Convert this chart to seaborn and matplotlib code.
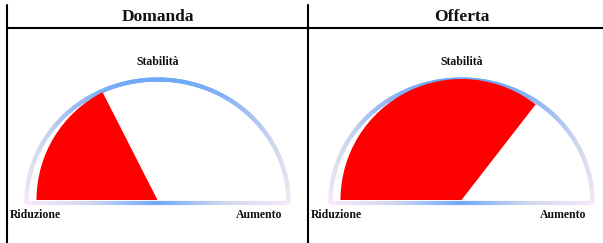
import numpy as np
import matplotlib
matplotlib.use("Agg")
import matplotlib.pyplot as plt
import seaborn as sns
from matplotlib.collections import LineCollection
from matplotlib.patches import Wedge
from matplotlib.lines import Line2D

# Gauge data: position on the scale, -1 = Riduzione, 0 = Stabilità, +1 = Aumento
panels = ["Domanda", "Offerta"]
values = [-0.30, 0.42]
label_left = "Riduzione"
label_top = "Stabilità"
label_right = "Aumento"

sns.set_theme(style="white")
plt.rcParams["font.family"] = ["Liberation Serif", "DejaVu Serif"]

W, H = 603, 243
fig = plt.figure(figsize=(W / 100, H / 100), dpi=100)

# gradient from pale pink (ends) to blue (top / middle)
grad = sns.blend_palette(["#f7e8f7", "#cfd6ee", "#6ea8f8"], n_colors=101)

R = 121          # radius of the red wedge (px)
A, B = 131, 123  # semi-axes of the outline (px)
Y0 = -2.5        # outline baseline

panel_left = [7, 308]
panel_width = [301, 307]
top_px = 28

for name, val, px, pw in zip(panels, values, panel_left, panel_width):
    ax = fig.add_axes([px / W, 0, pw / W, (H - top_px) / H])
    ax.set_xlim(-pw / 2, pw / 2)
    ax.set_ylim(-43, 172)
    ax.axis("off")

    # outline arc with gradient
    t = np.linspace(0, np.pi, 300)
    xs, ys = A * np.cos(t), Y0 + B * np.sin(t)
    pts = np.column_stack([xs, ys]).reshape(-1, 1, 2)
    segs = np.concatenate([pts[:-1], pts[1:]], axis=1)
    level = np.sin((t[:-1] + t[1:]) / 2)
    cols = [grad[int(round(v * 100))] for v in level]
    ax.add_collection(LineCollection(segs, colors=cols, linewidths=3.0,
                                     capstyle="round", zorder=2))

    # baseline with gradient
    bx = np.linspace(-A, A, 300)
    bpts = np.column_stack([bx, np.full_like(bx, Y0)]).reshape(-1, 1, 2)
    bsegs = np.concatenate([bpts[:-1], bpts[1:]], axis=1)
    blevel = 1 - np.abs((bx[:-1] + bx[1:]) / 2) / A
    bcols = [grad[int(round(v * 100))] for v in blevel]
    ax.add_collection(LineCollection(bsegs, colors=bcols, linewidths=3.0,
                                     zorder=2))

    # red wedge from Riduzione up to the value
    theta = 90 - val * 90
    ax.add_patch(Wedge((0, 0), R, theta, 180, facecolor="#ff0000",
                       edgecolor="none", zorder=3))

    ax.text(0, 183, name, ha="center", va="center", fontsize=12.5,
            fontweight="bold", color="#111111", clip_on=False)
    ax.text(0, 138, label_top, ha="center", va="center", fontsize=8.5,
            fontweight="bold", color="#111111")
    ax.text(-pw / 2 + 3, -15, label_left, ha="left", va="center",
            fontsize=8.5, fontweight="bold", color="#111111")
    ax.text(125, -15, label_right, ha="right", va="center",
            fontsize=8.5, fontweight="bold", color="#111111")

# table borders
lw = 1.5
fig.add_artist(Line2D([7 / W, 7 / W], [0, 1 - 5 / H], color="black", lw=lw))
fig.add_artist(Line2D([308 / W, 308 / W], [0, 1 - 5 / H], color="black", lw=lw))
fig.add_artist(Line2D([7 / W, 1], [1 - top_px / H, 1 - top_px / H],
                      color="black", lw=lw))

fig.savefig("out.png", dpi=100, facecolor="white")
